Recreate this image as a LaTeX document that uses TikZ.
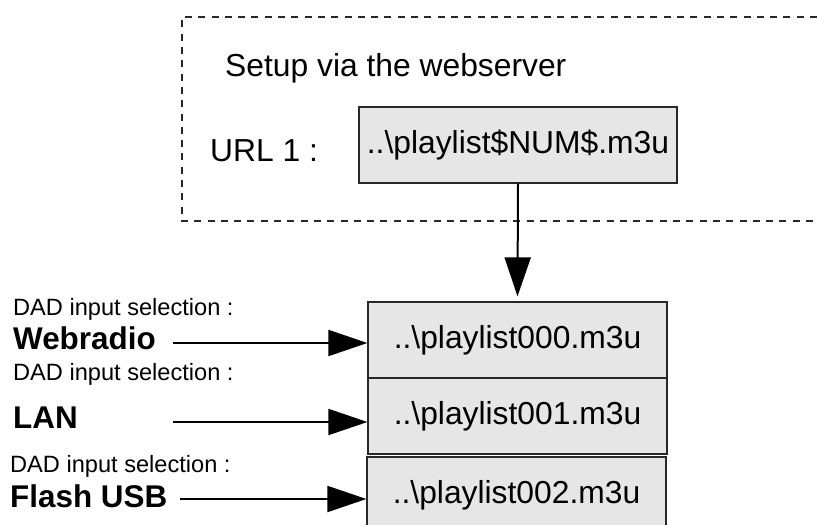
\documentclass[tikz,border=0pt]{standalone}
\usepackage{fontspec}
\setmainfont{Liberation Sans}
\usetikzlibrary{arrows.meta}
\definecolor{boxfill}{RGB}{230,230,230}
\definecolor{edge}{RGB}{40,40,40}
\tikzset{
  bigtext/.style={font=\fontsize{31.8}{36}\selectfont},
  smalltext/.style={font=\fontsize{23.6}{27}\selectfont},
  boldtext/.style={font=\fontsize{31.4}{36}\selectfont\bfseries},
  filebox/.style={draw=edge, line width=1.2pt, fill=boxfill, inner sep=0pt,
    minimum width=299pt, minimum height=76pt, bigtext},
  lbl/.style={anchor=base west, inner sep=0pt},
  arr/.style={line width=2pt, -{Triangle[length=39pt,width=26pt]}},
  frame/.style={draw=edge, line width=1.5pt, dash pattern=on 7pt off 6.3pt}
}
\begin{document}
\begin{tikzpicture}[x=1pt,y=-1pt]
\useasboundingbox (0,0) rectangle (817,525);
% dashed frame (open to the right)
\draw[frame] (817,17) -- (182,17) -- (182,221) -- (817,221);
\node[lbl, bigtext] (setup) at (225,76) {Setup via the webserver};
\node[lbl, bigtext] (urllbl) at (210,161) {URL 1 :};
\node[filebox, minimum width=318pt] (url) at (518,145) {..\textbackslash playlist\$NUM\$.m3u};
% playlist boxes
\node[filebox] (p0) at (517.5,340) {..\textbackslash playlist000.m3u};
\node[filebox] (p1) at (517.5,416) {..\textbackslash playlist001.m3u};
\node[filebox] (p2) at (516.5,495) {..\textbackslash playlist002.m3u};
% labels
\node[lbl, smalltext] (d0) at (13,315) {DAD input selection :};
\node[lbl, boldtext] (w) at (13,349) {Webradio};
\node[lbl, smalltext] (d1) at (13,380) {DAD input selection :};
\node[lbl, boldtext] (lan) at (13,428) {LAN};
\node[lbl, smalltext] (d2) at (10,472) {DAD input selection :};
\node[lbl, boldtext] (usb) at (10,507) {Flash USB};
% arrow start points
\coordinate (s0) at (173,343);
\coordinate (s1) at (173,422);
\coordinate (s2) at (180,499);
% connectors
\draw[arr] (url.south) -- ([yshift=5pt]p0.north);
\draw[arr] (s0) -- (s0 -| p0.west);
\draw[arr] (s1) -- (s1 -| p1.west);
\draw[arr] (s2) -- (s2 -| p2.west);
\end{tikzpicture}
\end{document}
